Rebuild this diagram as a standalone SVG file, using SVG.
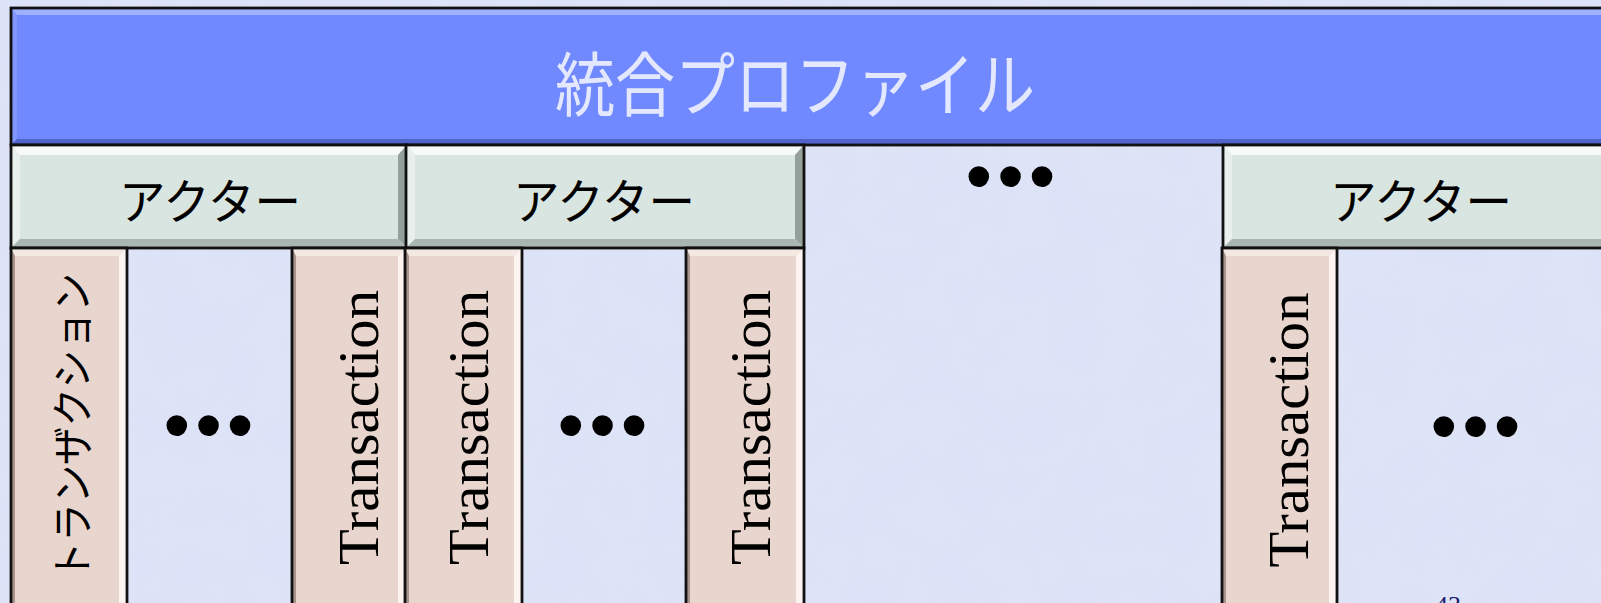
<svg xmlns="http://www.w3.org/2000/svg" width="1601" height="603" viewBox="0 0 1601 603">
<style>
.bg{fill:#dce2f7}
.border{fill:none;stroke:#111;stroke-width:2.8}
.title-fill{fill:#7089fe}
.actor-fill{fill:#d9e5e1}
.tx-fill{fill:#e8d5cd}
.jp{font-family:"Noto Sans CJK JP","Noto Sans CJK SC",sans-serif}
.title-text{font-size:70px;fill:#e4e8ff;text-anchor:middle}
.actor-text{font-size:48px;fill:#000;text-anchor:middle}
.tx-text{font-family:"Liberation Serif",serif;font-size:58px;fill:#000;text-anchor:middle}
.tx-jp{font-size:42px;fill:#000;text-anchor:middle}
.dots{font-family:"Liberation Sans",sans-serif;font-size:76px;fill:#000;text-anchor:middle;letter-spacing:5px}
.pg{font-family:"Liberation Serif",serif;font-size:26px;fill:#1c1f6e}
</style>
<defs>
<filter id="tex" x="0" y="0" width="1" height="1">
<feTurbulence type="fractalNoise" baseFrequency="0.02" numOctaves="3" seed="4"/>
<feColorMatrix values="0 0 0 0 0.86  0 0 0 0 0.89  0 0 0 0 0.97  0 0 0 0.35 0"/>
<feComposite in2="SourceGraphic" operator="in"/>
</filter>
</defs>
<rect class="bg" x="0" y="0" width="1601" height="603"/>
<rect x="0" y="0" width="1601" height="603" fill="#fff" filter="url(#tex)" opacity="0.5"/>

<g id="title">
<rect class="title-fill" x="11" y="8" width="1609" height="137"/>
<polygon points="11,8 1620,8 1614,15 17,15" fill="#9eb1ff"/>
<polygon points="11,8 17,15 17,139 11,145" fill="#8196ff"/>
<polygon points="11,145 1620,145 1614,139 17,139" fill="#5064cc"/>
<rect class="border" x="11" y="8" width="1609" height="137"/>
<text class="jp title-text" x="795" y="111" textLength="480" lengthAdjust="spacingAndGlyphs">統合プロファイル</text>
</g>

<g id="actor1">
<rect class="actor-fill" x="11" y="145" width="396" height="103"/>
<polygon points="11,145 407,145 398,155 20,155" fill="#f6faf8"/>
<polygon points="11,145 20,155 20,239 11,248" fill="#e8efec"/>
<polygon points="407,145 398,155 398,239 407,248" fill="#94a19b"/>
<polygon points="11,248 407,248 398,239 20,239" fill="#aab6b1"/>
<rect class="border" x="11" y="145" width="396" height="103"/>
<text class="jp actor-text" x="210" y="219" textLength="182" lengthAdjust="spacingAndGlyphs">アクター</text>
</g>

<g id="actor2">
<rect class="actor-fill" x="406" y="145" width="398" height="103"/>
<polygon points="406,145 804,145 795,155 415,155" fill="#f6faf8"/>
<polygon points="406,145 415,155 415,239 406,248" fill="#e8efec"/>
<polygon points="804,145 795,155 795,239 804,248" fill="#94a19b"/>
<polygon points="406,248 804,248 795,239 415,239" fill="#aab6b1"/>
<rect class="border" x="406" y="145" width="398" height="103"/>
<text class="jp actor-text" x="604" y="219" textLength="182" lengthAdjust="spacingAndGlyphs">アクター</text>
</g>

<g id="actor3">
<rect class="actor-fill" x="1223" y="145" width="397" height="103"/>
<polygon points="1223,145 1620,145 1611,155 1232,155" fill="#f6faf8"/>
<polygon points="1223,145 1232,155 1232,239 1223,248" fill="#e8efec"/>
<polygon points="1223,248 1620,248 1611,239 1232,239" fill="#aab6b1"/>
<rect class="border" x="1223" y="145" width="397" height="103"/>
<text class="jp actor-text" x="1421" y="219" textLength="182" lengthAdjust="spacingAndGlyphs">アクター</text>
</g>

<g id="tx1">
<rect class="tx-fill" x="11" y="248" width="116" height="372"/>
<polygon points="11,248 127,248 119,256 15,256" fill="#f4e8e3"/>
<polygon points="11,248 15,256 15,620 11,620" fill="#a8948d"/>
<polygon points="127,248 119,256 119,620 127,620" fill="#fdf4f1"/>
<rect class="border" x="11" y="248" width="116" height="372"/>
<text class="jp tx-jp" transform="translate(88,426.5) rotate(-90)" x="0" y="0" textLength="307" lengthAdjust="spacingAndGlyphs">トランザクション</text>
</g>

<g id="tx2">
<rect class="tx-fill" x="292" y="248" width="114" height="372"/>
<polygon points="292,248 406,248 398,256 296,256" fill="#f4e8e3"/>
<polygon points="292,248 296,256 296,620 292,620" fill="#a8948d"/>
<polygon points="406,248 398,256 398,620 406,620" fill="#fdf4f1"/>
<rect class="border" x="292" y="248" width="114" height="372"/>
<text class="tx-text" transform="translate(378,427.5) rotate(-90)" x="0" y="0" textLength="275" lengthAdjust="spacingAndGlyphs">Transaction</text>
</g>

<g id="tx3">
<rect class="tx-fill" x="405" y="248" width="117" height="372"/>
<polygon points="405,248 522,248 514,256 409,256" fill="#f4e8e3"/>
<polygon points="405,248 409,256 409,620 405,620" fill="#a8948d"/>
<polygon points="522,248 514,256 514,620 522,620" fill="#fdf4f1"/>
<rect class="border" x="405" y="248" width="117" height="372"/>
<text class="tx-text" transform="translate(488,427.5) rotate(-90)" x="0" y="0" textLength="275" lengthAdjust="spacingAndGlyphs">Transaction</text>
</g>

<g id="tx4">
<rect class="tx-fill" x="686" y="248" width="118" height="372"/>
<polygon points="686,248 804,248 796,256 690,256" fill="#f4e8e3"/>
<polygon points="686,248 690,256 690,620 686,620" fill="#a8948d"/>
<polygon points="804,248 796,256 796,620 804,620" fill="#fdf4f1"/>
<rect class="border" x="686" y="248" width="118" height="372"/>
<text class="tx-text" transform="translate(770,427.5) rotate(-90)" x="0" y="0" textLength="275" lengthAdjust="spacingAndGlyphs">Transaction</text>
</g>

<g id="tx5">
<rect class="tx-fill" x="1222" y="248" width="115" height="372"/>
<polygon points="1222,248 1337,248 1329,256 1226,256" fill="#f4e8e3"/>
<polygon points="1222,248 1226,256 1226,620 1222,620" fill="#a8948d"/>
<polygon points="1337,248 1329,256 1329,620 1337,620" fill="#fdf4f1"/>
<rect class="border" x="1222" y="248" width="115" height="372"/>
<text class="tx-text" transform="translate(1308,430) rotate(-90)" x="0" y="0" textLength="275" lengthAdjust="spacingAndGlyphs">Transaction</text>
</g>

<g id="dots">
<text class="dots" x="211" y="451">•••</text>
<text class="dots" x="605" y="451">•••</text>
<text class="dots" x="1013" y="202">•••</text>
<text class="dots" x="1478" y="452">•••</text>
</g>

<g id="page-number">
<text class="pg" x="1435" y="614">43</text>
</g>

<g id="connectors"/>
</svg>
